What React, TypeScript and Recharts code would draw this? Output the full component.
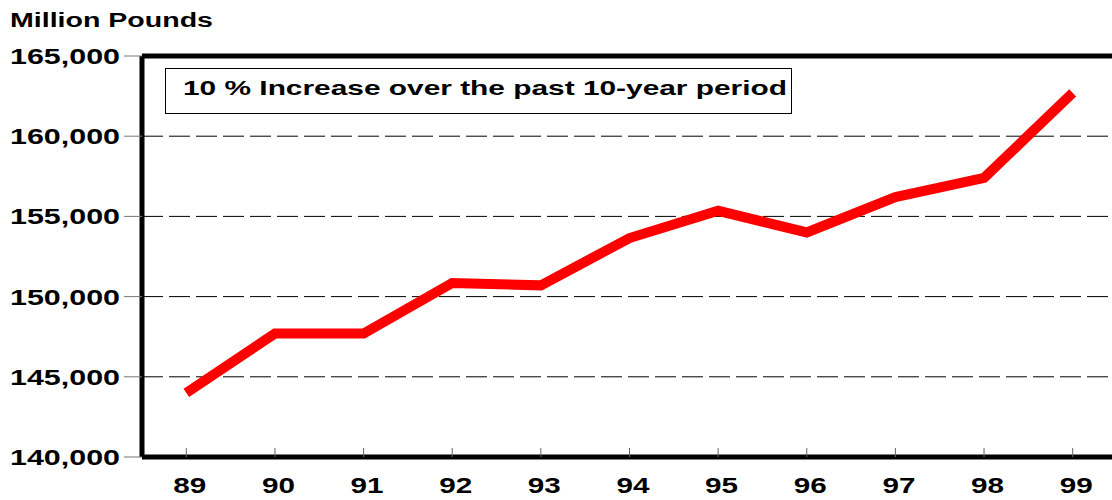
import React from "react";
import {
  LineChart, Line, XAxis, YAxis, CartesianGrid, ReferenceLine,
} from "recharts";

const years = ["89", "90", "91", "92", "93", "94", "95", "96", "97", "98", "99"];
const pounds = [144000, 147700, 147700, 150850, 150700, 153650, 155350, 154000, 156200, 157400, 162700];
const yTicks = [140000, 145000, 150000, 155000, 160000, 165000];

const font = "'Liberation Sans', Arial, sans-serif";

const chartData = years.map((year, i) => ({ year, value: pounds[i] }));

const YTick = ({ x, y, payload }: any) => (
  <text
    x={x - 112}
    y={y + 8}
    textLength={110}
    lengthAdjust="spacingAndGlyphs"
    fontFamily={font}
    fontWeight="bold"
    fontSize={22}
    fill="#000"
  >
    {Number(payload.value).toLocaleString("en-US")}
  </text>
);

const XTick = ({ x, y, payload }: any) => (
  <g>
    <line x1={x} y1={y - 9} x2={x} y2={y} stroke="#666" strokeWidth={1} />
    <text
      x={x - 13}
      y={y + 36}
      textLength={33}
      lengthAdjust="spacingAndGlyphs"
      fontFamily={font}
      fontWeight="bold"
      fontSize={22}
      fill="#000"
    >
      {payload.value}
    </text>
  </g>
);

export default function App() {
  return (
    <div style={{ position: "fixed", left: 0, top: 0, width: 1112, height: 500, overflow: "hidden", background: "#fff" }}>
      <LineChart
        width={1122}
        height={500}
        data={chartData}
        margin={{ top: 56, right: 5, left: 0, bottom: 13 }}
      >
        <CartesianGrid vertical={false} stroke="#000" strokeDasharray="21 6" />
        <XAxis
          dataKey="year"
          scale="band"
          height={30}
          tickSize={0}
          tickMargin={0}
          tickLine={false}
          axisLine={{ stroke: "#000", strokeWidth: 5 }}
          tick={<XTick />}
          interval={0}
        />
        <YAxis
          width={142}
          domain={[140000, 165000]}
          ticks={yTicks}
          tickSize={18}
          tickMargin={2}
          tickLine={{ stroke: "#777", strokeWidth: 1 }}
          axisLine={{ stroke: "#000", strokeWidth: 5 }}
          tick={<YTick />}
          interval={0}
        />
        <ReferenceLine y={165000} stroke="#000" strokeWidth={5} />
        <Line
          type="linear"
          dataKey="value"
          stroke="#ff0000"
          strokeWidth={10}
          dot={false}
          isAnimationActive={false}
        />
      </LineChart>
      <svg
        width={1112}
        height={500}
        style={{ position: "absolute", left: 0, top: 0, pointerEvents: "none" }}
      >
        <text
          x={10}
          y={27}
          textLength={203}
          lengthAdjust="spacingAndGlyphs"
          fontFamily={font}
          fontWeight="bold"
          fontSize={20}
          fill="#000"
        >
          Million Pounds
        </text>
        <rect x={165.5} y={68.5} width={626} height={45} fill="#fff" stroke="#000" strokeWidth={1} />
        <text
          x={183}
          y={95}
          textLength={604}
          lengthAdjust="spacingAndGlyphs"
          fontFamily={font}
          fontWeight="bold"
          fontSize={21}
          fill="#000"
        >
          10 % Increase over the past 10-year period
        </text>
      </svg>
    </div>
  );
}
